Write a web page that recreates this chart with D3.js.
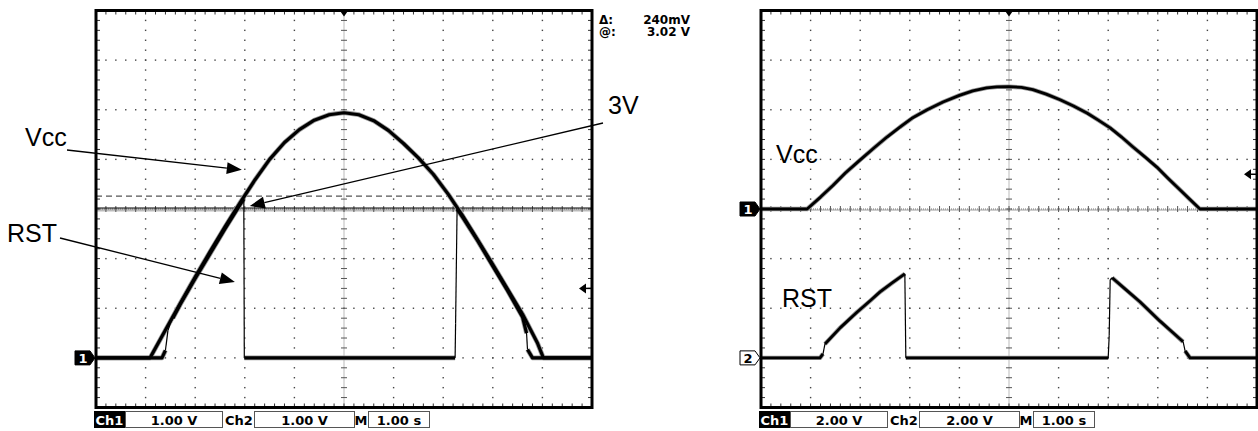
<!DOCTYPE html>
<html>
<head>
<meta charset="utf-8">
<script src="https://cdn.jsdelivr.net/npm/d3@7"></script>
<style>
  body { margin: 0; background: #fff; }
  svg { display: block; }
  .lbl { font-family: "Liberation Sans", Arial, sans-serif; font-size: 25px; fill: #000; }
  .tek { font-family: "DejaVu Sans", sans-serif; font-weight: bold; }
</style>
</head>
<body>
<div id="chart"></div>
<script>
// traces: [time in s (0 = trigger), volts]
var leftVcc = [[-5, 0], [-3.91, 0], [-3.6, 0.56], [-3.3, 1.1], [-3.0, 1.63], [-2.7, 2.14],
  [-2.4, 2.64], [-2.1, 3.12], [-1.8, 3.58], [-1.5, 4.0], [-1.2, 4.34], [-0.9, 4.6],
  [-0.6, 4.79], [-0.3, 4.9], [0, 4.94], [0.3, 4.9], [0.6, 4.78], [0.9, 4.58], [1.2, 4.32],
  [1.5, 4.03], [1.8, 3.7], [2.1, 3.3], [2.4, 2.85], [2.7, 2.37], [3.0, 1.88], [3.3, 1.38],
  [3.6, 0.88], [3.9, 0.3], [4.02, 0], [5, 0]];
var leftRst = [[-5, 0], [-3.67, 0], [-3.6, 0.15], [-3.55, 0.55], [-3.5, 0.7], [-3.45, 0.8],
  [-3.3, 1.08], [-3.0, 1.6], [-2.7, 2.1], [-2.4, 2.6], [-2.1, 3.08], [-2.02, 3.2], [-2.01, 0],
  [2.24, 0], [2.25, 0.7], [2.28, 3.0], [2.4, 2.82], [2.7, 2.35], [3.0, 1.85], [3.3, 1.35],
  [3.6, 0.82], [3.68, 0.5], [3.7, 0.17], [3.8, 0], [5, 0]];
var rightVcc = [[-5, 0], [-4.07, 0], [-3.8, 0.48], [-3.55, 0.95], [-3.3, 1.45], [-3.0, 1.98],
  [-2.7, 2.5], [-2.46, 2.9], [-2.2, 3.3], [-1.94, 3.68], [-1.65, 4.0], [-1.33, 4.31],
  [-1.0, 4.58], [-0.73, 4.76], [-0.45, 4.88], [-0.24, 4.92], [0, 4.93], [0.25, 4.9],
  [0.48, 4.81], [0.75, 4.63], [1.03, 4.4], [1.3, 4.15], [1.57, 3.87], [1.8, 3.58],
  [2.04, 3.27], [2.27, 2.9], [2.5, 2.5], [2.74, 2.1], [2.98, 1.69], [3.2, 1.25],
  [3.45, 0.77], [3.65, 0.38], [3.85, 0], [5, 0]];
var rightRst = [[-5, 0], [-3.81, 0], [-3.75, 0.16], [-3.71, 0.56], [-3.4, 1.22], [-3.06, 1.85],
  [-2.8, 2.3], [-2.6, 2.66], [-2.35, 3.03], [-2.1, 3.39], [-2.08, 0], [2.0, 0], [2.02, 0.89],
  [2.04, 3.15], [2.08, 3.23], [2.35, 2.76], [2.64, 2.26], [3.04, 1.49], [3.28, 1.06],
  [3.51, 0.65], [3.55, 0.28], [3.65, 0], [5, 0]];

// scope settings
var leftStatus = ["1.00 V", "1.00 V", "1.00 s"];
var rightStatus = ["2.00 V", "2.00 V", "1.00 s"];
var cursorVolts = [3.02, 3.26];
var readoutLabels = ["\u0394:", "@:"];
var readoutValues = ["240mV", "3.02 V"];
var triggerLevel = 1.4;

var svg = d3.select("#chart").append("svg")
  .attr("width", 1258)
  .attr("height", 431);

function drawScope(cfg) {
  var g = svg.append("g");
  var x = d3.scaleLinear().domain([-5, 5]).range([cfg.x0, cfg.x1]);
  var yDiv = d3.scaleLinear().domain([-4, 4]).range([cfg.y1, cfg.y0]);
  function chScale(offset, vdiv) {
    return d3.scaleLinear()
      .domain([(-4 - offset) * vdiv, (4 - offset) * vdiv])
      .range([cfg.y1, cfg.y0]);
  }
  var ch1 = chScale(cfg.ch1Offset, cfg.ch1Vdiv);
  var ch2 = chScale(cfg.ch2Offset, cfg.ch2Vdiv);

  var gx = d3.range(-4, 5).filter(d => d !== 0);
  var gy = d3.range(-3, 4).filter(d => d !== 0);
  var minorX = d3.range(-25, 26).map(d => d / 5);
  var minorY = d3.range(-20, 21).map(d => d / 5);

  // dotted graticule
  var grid = g.append("g").attr("fill", "#444");
  grid.selectAll("rect.v").data(d3.cross(gx, minorY)).join("rect").attr("class", "v")
    .attr("x", d => x(d[0]) - 0.7).attr("y", d => yDiv(d[1]) - 0.7)
    .attr("width", 1.4).attr("height", 1.4);
  grid.selectAll("rect.h").data(d3.cross(minorX, gy)).join("rect").attr("class", "h")
    .attr("x", d => x(d[0]) - 0.7).attr("y", d => yDiv(d[1]) - 0.7)
    .attr("width", 1.4).attr("height", 1.4);

  // centre lines with ticks
  g.append("line")
    .attr("x1", cfg.x0).attr("x2", cfg.x1)
    .attr("y1", yDiv(0) + 1).attr("y2", yDiv(0) + 1)
    .attr("stroke", "#bbb").attr("stroke-width", cfg.cursors ? 3 : 1.5);
  g.append("line")
    .attr("x1", cfg.x0).attr("x2", cfg.x1)
    .attr("y1", yDiv(0)).attr("y2", yDiv(0))
    .attr("stroke", "#777").attr("stroke-dasharray", "1,1");
  g.append("line")
    .attr("x1", x(0)).attr("x2", x(0))
    .attr("y1", cfg.y0).attr("y2", cfg.y1)
    .attr("stroke", "#777").attr("stroke-dasharray", "1,1");
  g.append("g").attr("stroke", "#555").selectAll("line").data(minorX).join("line")
    .attr("x1", d => x(d)).attr("x2", d => x(d))
    .attr("y1", yDiv(0) - 3).attr("y2", yDiv(0) + 3);
  g.append("g").attr("stroke", "#555").selectAll("line").data(minorY).join("line")
    .attr("x1", x(0) - 3).attr("x2", x(0) + 3)
    .attr("y1", d => yDiv(d)).attr("y2", d => yDiv(d));

  // border ticks
  var bt = g.append("g").attr("stroke", "#333");
  bt.selectAll("line.t").data(minorX).join("line").attr("class", "t")
    .attr("x1", d => x(d)).attr("x2", d => x(d)).attr("y1", cfg.y0).attr("y2", cfg.y0 + 4);
  bt.selectAll("line.b").data(minorX).join("line").attr("class", "b")
    .attr("x1", d => x(d)).attr("x2", d => x(d)).attr("y1", cfg.y1).attr("y2", cfg.y1 - 4);
  bt.selectAll("line.l").data(minorY).join("line").attr("class", "l")
    .attr("x1", cfg.x0).attr("x2", cfg.x0 + 4).attr("y1", d => yDiv(d)).attr("y2", d => yDiv(d));
  bt.selectAll("line.r").data(minorY).join("line").attr("class", "r")
    .attr("x1", cfg.x1).attr("x2", cfg.x1 - 4).attr("y1", d => yDiv(d)).attr("y2", d => yDiv(d));

  // cursors (left scope only)
  if (cfg.cursors) {
    g.append("line")
      .attr("x1", cfg.x0).attr("x2", cfg.x1)
      .attr("y1", ch1(cursorVolts[0])).attr("y2", ch1(cursorVolts[0]))
      .attr("stroke", "#000").attr("stroke-width", 1);
    g.append("line")
      .attr("x1", cfg.x0).attr("x2", cfg.x1)
      .attr("y1", ch1(cursorVolts[1])).attr("y2", ch1(cursorVolts[1]))
      .attr("stroke", "#555").attr("stroke-width", 1.3).attr("stroke-dasharray", "6,4");
  }

  // traces: slow parts thick, fast edges thin
  var line = d3.line();
  function splitRuns(data, ys) {
    var pts = data.map(d => [x(d[0]), ys(d[1])]);
    var runs = [], cur = [pts[0]];
    for (var i = 1; i < pts.length; i++) {
      if (Math.abs(pts[i][0] - pts[i - 1][0]) < 2.5) {
        if (cur.length > 1) runs.push({ thick: true, p: cur });
        runs.push({ thick: false, p: [pts[i - 1], pts[i]] });
        cur = [pts[i]];
      } else {
        cur.push(pts[i]);
      }
    }
    if (cur.length > 1) runs.push({ thick: true, p: cur });
    return runs;
  }
  var runs = splitRuns(cfg.vcc, ch1).concat(splitRuns(cfg.rst, ch2));
  var tr = g.append("g").attr("fill", "none").attr("stroke-linejoin", "round");
  tr.selectAll("path.halo").data(runs.filter(r => r.thick)).join("path").attr("class", "halo")
    .attr("d", r => line(r.p)).attr("stroke", "#999").attr("stroke-width", cfg.traceW + 1.6);
  tr.selectAll("path.ink").data(runs).join("path").attr("class", "ink")
    .attr("d", r => line(r.p)).attr("stroke", "#000")
    .attr("stroke-width", r => r.thick ? cfg.traceW : 1.2);

  // frame
  g.append("rect")
    .attr("x", cfg.x0).attr("y", cfg.y0)
    .attr("width", cfg.x1 - cfg.x0).attr("height", cfg.y1 - cfg.y0)
    .attr("fill", "none").attr("stroke", "#000").attr("stroke-width", 3);

  // trigger position marker
  g.append("path")
    .attr("d", `M${x(0) - 5},${cfg.y0 - 1}L${x(0) + 5},${cfg.y0 - 1}L${x(0)},${cfg.y0 + 6}Z`)
    .attr("fill", "#000");

  // trigger level marker
  var ty = ch1(triggerLevel);
  g.append("path")
    .attr("d", `M${cfg.x1 - 13},${ty}L${cfg.x1 - 6},${ty - 5}L${cfg.x1 - 6},${ty + 5}Z`)
    .attr("fill", "#000");
  g.append("line")
    .attr("x1", cfg.x1 - 7).attr("x2", cfg.x1).attr("y1", ty).attr("y2", ty)
    .attr("stroke", "#000").attr("stroke-width", 1.5);

  // channel ground markers
  cfg.markers.forEach(function(m) {
    var my = (m.ch === 1 ? ch1 : ch2)(0);
    var x0 = cfg.x0;
    g.append("path")
      .attr("d", `M${x0 - 21},${my - 7}L${x0 - 6},${my - 7}L${x0 - 1},${my}L${x0 - 6},${my + 7}L${x0 - 21},${my + 7}Z`)
      .attr("fill", m.filled ? "#000" : "#fff")
      .attr("stroke", "#000").attr("stroke-width", 1);
    g.append("text").attr("class", "tek")
      .attr("x", x0 - 13).attr("y", my + 5)
      .attr("text-anchor", "middle").attr("font-size", 13)
      .attr("fill", m.filled ? "#fff" : "#000")
      .text(String(m.ch));
  });

  // status bar
  var sb = g.append("g");
  var ox = cfg.x0 - 2, by = 411, bh = 17;
  sb.append("rect").attr("x", ox).attr("y", by).attr("width", 31).attr("height", bh).attr("fill", "#000");
  sb.append("text").attr("class", "tek").attr("x", ox + 15.5).attr("y", by + 13.5)
    .attr("text-anchor", "middle").attr("font-size", 13).attr("fill", "#fff").text("Ch1");
  var boxes = [[ox + 31, 98], [ox + 160, 101], [ox + 274, 62]];
  boxes.forEach(function(b, i) {
    sb.append("rect").attr("x", b[0] + 0.5).attr("y", by + 0.5)
      .attr("width", b[1] - 1).attr("height", bh - 1)
      .attr("fill", "none").attr("stroke", "#555").attr("stroke-width", 1);
    sb.append("text").attr("class", "tek").attr("x", b[0] + b[1] / 2).attr("y", by + 13.5)
      .attr("text-anchor", "middle").attr("font-size", 13).text(cfg.status[i]);
  });
  sb.append("text").attr("class", "tek").attr("x", ox + 145).attr("y", by + 13.5)
    .attr("text-anchor", "middle").attr("font-size", 13).text("Ch2");
  sb.append("text").attr("class", "tek").attr("x", ox + 267).attr("y", by + 13.5)
    .attr("text-anchor", "middle").attr("font-size", 13).text("M");

  return { g: g, x: x, ch1: ch1, ch2: ch2 };
}

var left = drawScope({
  x0: 96, x1: 592, y0: 10.5, y1: 407.5,
  ch1Offset: -3, ch1Vdiv: 1, ch2Offset: -3, ch2Vdiv: 1,
  vcc: leftVcc, rst: leftRst, traceW: 3.2, cursors: true,
  markers: [{ ch: 1, filled: true }],
  status: leftStatus
});

var right = drawScope({
  x0: 761, x1: 1257, y0: 10.5, y1: 407.5,
  ch1Offset: 0, ch1Vdiv: 2, ch2Offset: -3, ch2Vdiv: 2,
  vcc: rightVcc, rst: rightRst, traceW: 2.8, cursors: false,
  markers: [{ ch: 1, filled: true }, { ch: 2, filled: false }],
  status: rightStatus
});

// cursor readout
readoutLabels.forEach(function(l, i) {
  svg.append("text").attr("class", "tek").attr("x", 599).attr("y", 23.5 + i * 12.5)
    .attr("font-size", 12).text(l);
  svg.append("text").attr("class", "tek").attr("x", 690).attr("y", 23.5 + i * 12.5)
    .attr("font-size", 12).attr("text-anchor", "end").text(readoutValues[i]);
});

// annotations
function arrow(from, tip) {
  var dx = tip[0] - from[0], dy = tip[1] - from[1];
  var len = Math.sqrt(dx * dx + dy * dy), ux = dx / len, uy = dy / len;
  var bx = tip[0] - ux * 15, by = tip[1] - uy * 15;
  svg.append("line")
    .attr("x1", from[0]).attr("y1", from[1]).attr("x2", bx).attr("y2", by)
    .attr("stroke", "#000").attr("stroke-width", 1.3);
  svg.append("path")
    .attr("d", `M${tip[0]},${tip[1]}L${bx - uy * 6},${by + ux * 6}L${bx + uy * 6},${by - ux * 6}Z`)
    .attr("fill", "#000");
}

svg.append("text").attr("class", "lbl").attr("x", 25).attr("y", 146).text("Vcc");
svg.append("text").attr("class", "lbl").attr("x", 608).attr("y", 114).text("3V");
svg.append("text").attr("class", "lbl").attr("x", 7).attr("y", 242).text("RST");
arrow([67, 150], [left.x(-2.06), left.ch1(3.79)]);
arrow([603, 123], [left.x(-1.9), left.ch1(3.06)]);
arrow([60, 238], [left.x(-2.2), left.ch1(1.53)]);

svg.append("text").attr("class", "lbl").attr("x", 776).attr("y", 163).text("Vcc");
svg.append("text").attr("class", "lbl").attr("x", 782).attr("y", 307).text("RST");
</script>
</body>
</html>
